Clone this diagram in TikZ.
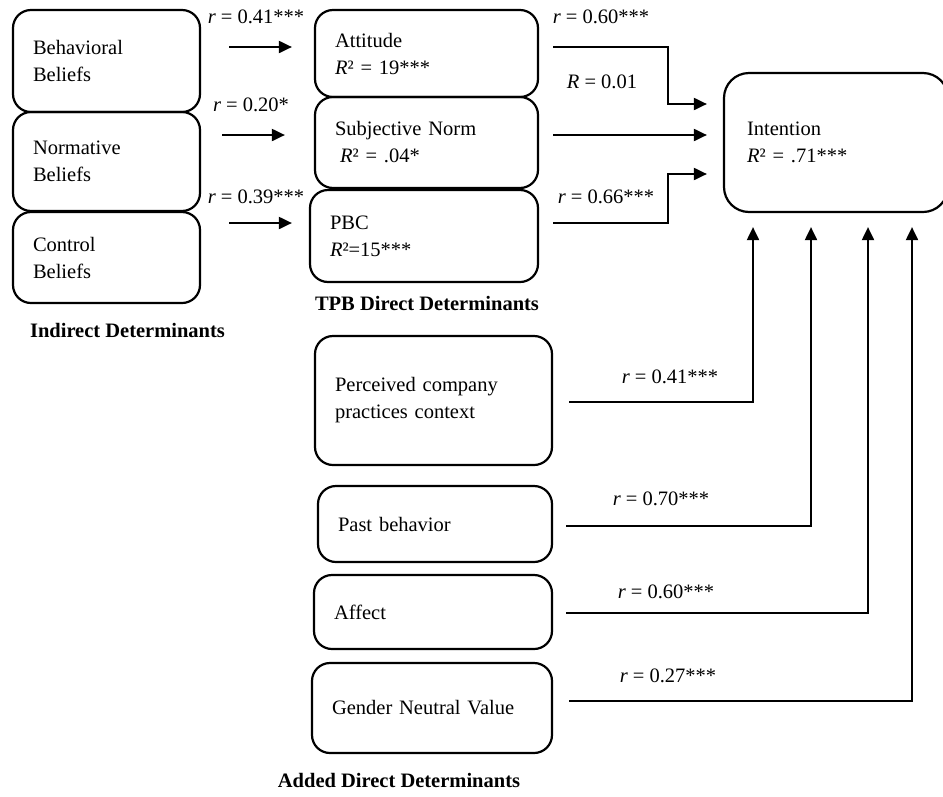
\documentclass[tikz,border=0pt]{standalone}
\usepackage{fontspec}
\setmainfont{Liberation Serif}
\usetikzlibrary{arrows.meta,calc}
\begin{document}
\begin{tikzpicture}[x=1pt,y=-1pt,
 box/.style={draw,line width=2.2pt,rounded corners=18pt,align=left,inner xsep=20pt,inner ysep=0pt,font=\fontsize{20.5}{27}\selectfont},
 lbl/.style={font=\fontsize{20.5}{27}\selectfont,inner sep=0pt},
 ttl/.style={font=\fontsize{20.5}{27}\selectfont\bfseries,inner sep=0pt},
 arr/.style={line width=2pt,-{Triangle[length=13pt,width=12pt]}}]
 \useasboundingbox (0,0) rectangle (943,796);
 \node[box,text width=147pt,minimum height=102pt] (bb) at (106.5,61) {Behavioral\\Beliefs};
 \node[box,text width=147pt,minimum height=99pt] (nb) at (106.5,161.5) {Normative\\Beliefs};
 \node[box,text width=147pt,minimum height=91pt] (cb) at (106.5,257.5) {Control\\Beliefs};
 \node[box,text width=183pt,minimum height=87pt] (att) at (426.5,53.5) {Attitude\\\textit{R}² = 19***};
 \node[box,text width=183pt,minimum height=91pt] (sn) at (426.5,142.5) {Subjective Norm\\\hspace*{5pt}\textit{R}² = .04*};
 \node[box,text width=188pt,minimum height=92pt] (pbc) at (424,236) {PBC\\\textit{R}²=15***};
 \node[box,text width=178pt,minimum height=139pt,rounded corners=25pt,inner xsep=23pt] (int) at (836,142.5) {Intention\\\textit{R}² = .71***};
 \node[box,text width=197pt,minimum height=129pt] (pcp) at (433.5,400.5) {Perceived company\\practices context};
 \node[box,text width=194pt,minimum height=76pt] (pb) at (435,524) {Past behavior};
 \node[box,text width=198pt,minimum height=74pt] (aff) at (433,612) {Affect};
 \node[box,text width=200pt,minimum height=90pt] (gnv) at (432,708) {Gender Neutral Value};
 \node[lbl] (r1) at (256,17) {\textit{r} = 0.41***};
 \node[lbl] (r2) at (251,105) {\textit{r} = 0.20*};
 \node[lbl] (r3) at (256,197) {\textit{r} = 0.39***};
 \node[lbl] (r4) at (601,17) {\textit{r} = 0.60***};
 \node[lbl] (r5) at (602,82) {\textit{R} = 0.01};
 \node[lbl] (r6) at (606,197) {\textit{r} = 0.66***};
 \node[lbl] (r7) at (670,377) {\textit{r} = 0.41***};
 \node[lbl] (r8) at (661,499) {\textit{r} = 0.70***};
 \node[lbl] (r9) at (666,592) {\textit{r} = 0.60***};
 \node[lbl] (r10) at (668,676) {\textit{r} = 0.27***};
 \node[ttl] (ind) at (127.5,330) {Indirect Determinants};
 \node[ttl] (tpb) at (427,303) {TPB Direct Determinants};
 \node[ttl] (add) at (399,780) {Added Direct Determinants};
 \draw[arr] ($(bb.east)+(28,-14)$) -- ($(att.west)+(-22,-6.5)$);
 \draw[arr] ($(nb.east)+(21,-26.5)$) -- ($(sn.west)+(-29,-7.5)$);
 \draw[arr] ($(cb.east)+(28,-34.5)$) -- ($(pbc.west)+(-17,-13)$);
 \draw[arr] ($(att.east)+(14,-6.5)$) -| ($(int.west)+(-55,-38.5)$) -- ($(int.west)+(-16,-38.5)$);
 \draw[arr] ($(sn.east)+(14,-7.5)$) -- ($(int.west)+(-16,-7.5)$);
 \draw[arr] ($(pbc.east)+(14,-13)$) -| ($(int.west)+(-55,31.5)$) -- ($(int.west)+(-16,31.5)$);
 \draw[arr] ($(pcp.east)+(16,1.5)$) -| ($(int.south)+(-83,14)$);
 \draw[arr] ($(pb.east)+(13,2)$) -| ($(int.south)+(-25,14)$);
 \draw[arr] ($(aff.east)+(13,1)$) -| ($(int.south)+(32,14)$);
 \draw[arr] ($(gnv.east)+(16,-7)$) -| ($(int.south)+(76,14)$);
\end{tikzpicture}
\end{document}
